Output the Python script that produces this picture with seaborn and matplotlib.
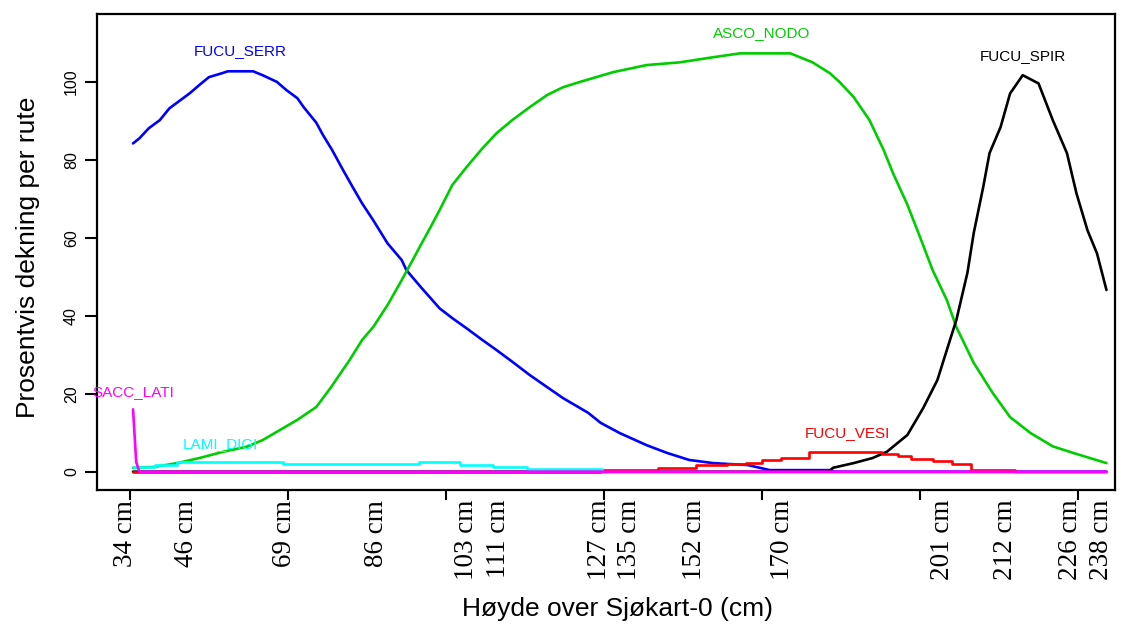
import matplotlib
matplotlib.use("Agg")
import matplotlib.pyplot as plt
import pandas as pd
import seaborn as sns

# ---- data (sample index along transect -> percent cover) ----
serr_x = [1, 3, 6, 9.5, 12.5, 16, 19, 22, 25, 29.5, 31, 39, 42, 46.5, 49.5, 53, 55, 59, 61, 64,
          67.5, 70.5, 73.5, 77, 81.5, 86, 87.5, 92, 98, 102, 106.5, 111.5, 116, 121, 126.5, 132,
          137, 145, 149, 155, 163.5, 170, 177, 184.5, 195.5, 202.5, 221.5, 223, 309]
serr_y = [84.2, 85.5, 88.1, 90.2, 93.2, 95.3, 97.1, 99.2, 101.2, 102.3, 102.7, 102.7, 101.7, 100,
          97.9, 95.8, 93.5, 89.5, 86.5, 82.5, 77.3, 73, 68.8, 64.5, 58.6, 54.3, 51.7, 47.4, 41.9,
          39.4, 36.8, 33.8, 31.2, 28.2, 24.8, 21.7, 18.9, 15.1, 12.5, 9.9, 6.8, 4.8, 3.0, 2.2, 1.7,
          0.4, 0.4, 0, 0]

nodo_x = [1, 7.5, 15, 22, 29.5, 37, 42, 47.5, 53, 59, 63.5, 69.5, 73.5, 77, 81.5, 85.5, 89.5, 92,
          95, 98, 102, 106.5, 111.5, 116, 121, 126.5, 132, 137, 142.5, 153, 163.5, 174, 184.5, 193,
          209, 216, 221.5, 224.5, 229, 234, 238.5, 241.5, 246, 250, 254, 258.5, 261.5, 267, 273,
          278.5, 285, 292, 298.5, 309]
nodo_y = [1.0, 1.2, 2.2, 3.5, 5.1, 6.4, 8.1, 10.7, 13.3, 16.6, 21.5, 28.6, 33.8, 37.1, 42.7, 48.4,
          54.3, 58.1, 62.5, 67.1, 73.5, 78.1, 82.9, 86.8, 90.2, 93.5, 96.6, 98.6, 100, 102.5, 104.3,
          105, 106.3, 107.3, 107.3, 105, 102.2, 100, 96.1, 90.2, 82.5, 76.5, 68.5, 60.2, 51.7, 44,
          37.1, 27.9, 20.2, 14, 9.9, 6.5, 4.8, 2.2]

spir_x = [1, 221, 222.5, 229, 235, 239.5, 246, 251, 255.5, 259.5, 261.5, 265, 267, 270, 272, 275.5,
          278.5, 282.5, 287.5, 292, 296.5, 299.5, 303, 306, 309]
spir_y = [0, 0, 1.0, 2.2, 3.5, 5.1, 9.4, 16.3, 23.5, 33.8, 38.9, 51, 61.2, 73, 81.7, 88.4, 97,
          101.7, 99.6, 90.2, 81.7, 71.4, 61.9, 56, 46.6]

vesi_x = [1, 149, 167, 179, 189, 195, 200, 206, 215, 238, 243, 247, 254, 260, 266, 280, 309]
vesi_y = [0, 0.4, 0.9, 1.6, 2.0, 2.3, 2.9, 3.6, 5.0, 4.5, 3.9, 3.2, 2.7, 2.0, 0.5, 0, 0]

digi_x = [1, 8, 15, 48.5, 91.5, 104.5, 115, 125.5, 149.5, 309]
digi_y = [1.1, 1.7, 2.4, 1.9, 2.4, 1.7, 1.3, 0.8, 0, 0]

lati_x = [1, 2, 3, 309]
lati_y = [16, 2.5, 0, 0]

species = ["FUCU_SERR", "ASCO_NODO", "FUCU_SPIR", "FUCU_VESI", "LAMI_DIGI", "SACC_LATI"]
colors = ["#0000FF", "#00CD00", "#000000", "#FF0000", "#00FFFF", "#FF00FF"]
label_x = [35, 200, 282.5, 227, 28.5, 1]
label_y = [108, 112.5, 106.5, 10, 7.2, 20.5]

height_pos = [-1.5, 18, 49, 78, 106.5, 116.5, 148.5, 158, 178.5, 206.5, 257, 277, 297.5, 307.5]
height_lab = ["34 cm", "46 cm", "69 cm", "86 cm", "103 cm", "111 cm", "127 cm", "135 cm",
              "152 cm", "170 cm", "201 cm", "212 cm", "226 cm", "238 cm"]
major_ticks = [0, 50, 100, 150, 200, 250, 300]
y_ticks = [0, 20, 40, 60, 80, 100]

# ---- plot ----
sns.set_theme(style="ticks")
plt.rcParams['font.family'] = ['Liberation Sans', 'DejaVu Sans']
plt.rcParams.update({"text.color": "black", "axes.labelcolor": "black",
                     "xtick.color": "black", "ytick.color": "black"})

fig = plt.figure(figsize=(11.33, 6.24), dpi=100)
ax = fig.add_axes([97 / 1133, 1 - 490 / 624, (1115 - 97) / 1133, (490 - 14) / 624])

series = [(serr_x, serr_y, "linear"), (nodo_x, nodo_y, "linear"), (spir_x, spir_y, "linear"),
          (vesi_x, vesi_y, "steps-post"), (digi_x, digi_y, "steps-post"), (lati_x, lati_y, "linear")]
for (xs, ys, ds), name, col in zip(series, species, colors):
    df = pd.DataFrame({"x": xs, "y": ys})
    kw = {} if ds == "linear" else {"drawstyle": ds}
    sns.lineplot(data=df, x="x", y="y", color=col, lw=1.9, ax=ax, estimator=None,
                 sort=False, **kw)

for name, col, lx, ly in zip(species, colors, label_x, label_y):
    ax.text(lx, ly, name, color=col, ha="center", va="center", fontsize=11)

ax.set_xlim(-10.4, 311.7)
ax.set_ylim(-4.7, 117.4)

ax.set_xticks(major_ticks)
ax.set_xticklabels([""] * len(major_ticks))
ax.set_xticks(height_pos, minor=True)
ax.set_xticklabels(height_lab, minor=True, rotation=90, fontfamily="Liberation Serif",
                   fontsize=19.5)
ax.tick_params(axis="x", which="major", length=7, width=1.5, color="black")
ax.tick_params(axis="x", which="minor", length=0, pad=7)

ax.set_yticks(y_ticks)
ax.set_yticklabels([str(v) for v in y_ticks], rotation=90, va="center", fontsize=11.5)
ax.tick_params(axis="y", length=9, width=1.5, color="black", pad=4)

for sp in ax.spines.values():
    sp.set_color("black")
    sp.set_linewidth(1.6)

ax.set_xlabel("Høyde over Sjøkart-0 (cm)", fontsize=19)
ax.xaxis.label.set_va("center")
ax.xaxis.set_label_coords((617 - 97) / 1018, (490 - 609) / 476)
ax.set_ylabel("Prosentvis dekning per rute", fontsize=19)
ax.yaxis.label.set_va("center")
ax.yaxis.set_label_coords((28 - 97) / 1018, (490 - 257) / 476)

fig.savefig("out.png", dpi=100)
